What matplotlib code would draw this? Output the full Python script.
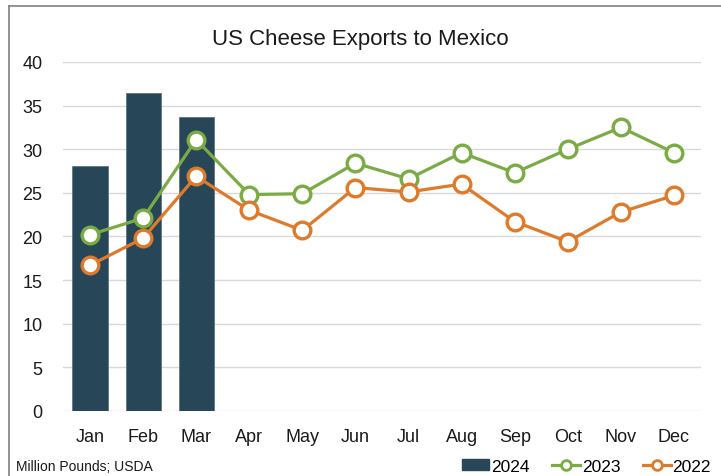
import matplotlib
matplotlib.use("Agg")
import matplotlib.pyplot as plt
from matplotlib.lines import Line2D
from matplotlib.patches import Patch

months = ["Jan", "Feb", "Mar", "Apr", "May", "Jun", "Jul", "Aug", "Sep", "Oct", "Nov", "Dec"]
exports_2024 = [28.1, 36.5, 33.7]
exports_2023 = [20.2, 22.1, 31.1, 24.8, 24.9, 28.4, 26.6, 29.6, 27.3, 30.0, 32.5, 29.6]
exports_2022 = [16.7, 19.8, 26.9, 23.0, 20.7, 25.6, 25.1, 26.0, 21.7, 19.4, 22.8, 24.7]

BAR = "#274759"
GREEN = "#7BAB45"
ORANGE = "#DE7A2B"

plt.rcParams["font.family"] = ["Liberation Sans", "DejaVu Sans"]

fig = plt.figure(figsize=(7.21, 4.77), dpi=100)
ax = fig.add_axes([0.088, 0.1363, 0.8836, 0.7317])

x = list(range(len(months)))
ax.bar(x[:len(exports_2024)], exports_2024, width=0.66, color=BAR,
       edgecolor="#5d7684", linewidth=0.6, zorder=2)
ax.plot(x, exports_2023, color=GREEN, lw=2.3, marker="o", ms=12,
        mfc="white", mec=GREEN, mew=2.4, zorder=3)
ax.plot(x, exports_2022, color=ORANGE, lw=2.3, marker="o", ms=12,
        mfc="white", mec=ORANGE, mew=2.4, zorder=4)

ax.set_xlim(-0.5, 11.5)
ax.set_ylim(0, 40)
ax.set_yticks(range(0, 41, 5))
ax.set_xticks(x)
ax.set_xticklabels(months)
ax.grid(axis="y", color="#d9d9d9", lw=1, zorder=0)
for s in ax.spines.values():
    s.set_visible(False)
ax.tick_params(length=0, labelsize=13, colors="#1a1a1a")
ax.tick_params(axis="x", pad=12)
ax.tick_params(axis="y", pad=15)

fig.text(0.5, 0.918, "US Cheese Exports to Mexico", ha="center", va="center",
         fontsize=16, color="#1a1a1a")
fig.text(0.022, 0.02, "Million Pounds; USDA", ha="left", va="center",
         fontsize=10, color="#1a1a1a")

# frame around the chart (top and left edges visible)
fig.add_artist(Line2D([0.012, 1.0], [0.985, 0.985], color="#7f7f7f", lw=1.2))
fig.add_artist(Line2D([0.012, 0.012], [0.0, 0.985], color="#7f7f7f", lw=1.2))

handles = [
    Patch(facecolor=BAR, edgecolor=BAR),
    Line2D([], [], color=GREEN, lw=2.3, marker="o", ms=7, mfc="white", mec=GREEN, mew=2),
    Line2D([], [], color=ORANGE, lw=2.3, marker="o", ms=7, mfc="white", mec=ORANGE, mew=2),
]
fig.legend(handles, ["2024", "2023", "2022"], loc="center right",
           bbox_to_anchor=(0.998, 0.02), ncol=3, frameon=False, fontsize=12.5,
           handlelength=1.6, handletextpad=0.1, columnspacing=1.3,
           handleheight=0.6, borderpad=0)

fig.savefig("out.png", dpi=100)
